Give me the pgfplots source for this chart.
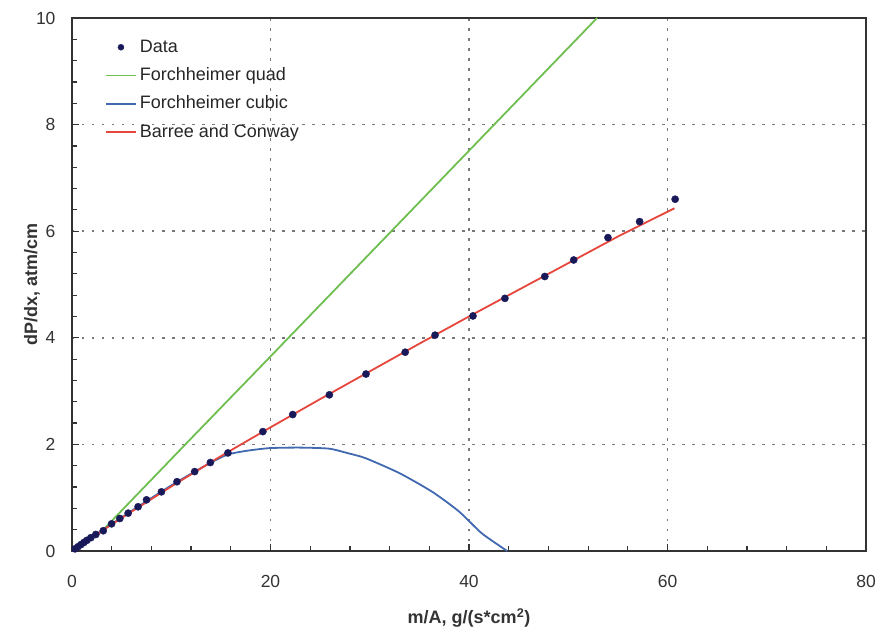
\documentclass[border=0pt]{standalone}
\usepackage{fontspec}
\setmainfont{Liberation Sans}
\usepackage{pgfplots}
\pgfplotsset{compat=1.18}
\definecolor{quadgreen}{RGB}{110,190,80}
\definecolor{cubicblue}{RGB}{65,105,175}
\definecolor{bcred}{RGB}{230,70,60}
\definecolor{datnavy}{RGB}{25,25,90}
\definecolor{gridc}{RGB}{120,120,120}
\begin{document}
\begin{tikzpicture}
\begin{axis}[
  scale only axis, width=794bp, height=533bp,
  xmin=0, xmax=80, ymin=0, ymax=10,
  xtick={0,20,40,60,80}, ytick={0,2,4,6,8,10},
  minor x tick num=4, minor y tick num=4,
  tick pos=left, tick align=inside,
  major tick length=7bp, minor tick length=5bp,
  every tick/.style={black!80, line width=1.2bp},
  axis line style={black!80, line width=1.5bp},
  grid=major,
  major grid style={gridc, line width=1.7bp, dash pattern=on 2.5bp off 7.5bp},
  ticklabel style={font=\fontsize{17.5bp}{20bp}\selectfont, text=black!80},
  /pgf/number format/assume math mode=true,
  xticklabel style={yshift=-21bp},
  yticklabel style={xshift=-13bp},
  xlabel={\textbf{m/A, g/(s*cm\textsuperscript{2})}},
  ylabel={\textbf{dP/dx, atm/cm}},
  label style={font=\fontsize{18bp}{20bp}\selectfont, text=black!80},
  x label style={at={(axis description cs:0.5,-0.1257)}, anchor=center},
  y label style={at={(axis description cs:-0.0504,0.5)}, anchor=center},
  legend cell align=left,
  legend style={draw=none, fill=none, at={(axis cs:3.32,9.62)}, anchor=north west,
    inner sep=0pt, outer sep=0pt, row sep=10.3bp, column sep=3bp,
    font=\fontsize{18bp}{20bp}\selectfont, text=black!85,
    nodes={inner sep=0pt, text height=14bp, text depth=4bp}},
]
\addlegendimage{legend image code/.code={\fill[datnavy] (15bp,0bp) circle[radius=3bp];}}
\addlegendentry{Data}
\addlegendimage{legend image code/.code={\draw[quadgreen, line width=1.8bp] (0bp,0bp) -- (30bp,0bp);}}
\addlegendentry{Forchheimer quad}
\addlegendimage{legend image code/.code={\draw[cubicblue, line width=1.8bp] (0bp,0bp) -- (30bp,0bp);}}
\addlegendentry{Forchheimer cubic}
\addlegendimage{legend image code/.code={\draw[draw=bcred, line width=2bp] (0bp,0bp) -- (30bp,0bp);}}
\addlegendentry{Barree and Conway}
\addplot[forget plot, color=quadgreen, line width=1.8bp] coordinates {
(0,0) (1.5,0.2) (3.15,0.40) (11.63,2.04) (20,3.65) (30,5.58) (40,7.51) (52.9,10.0)
};
\addplot[forget plot, color=cubicblue, line width=1.8bp, smooth, tension=0.4] coordinates {
(0,0) (5,0.63) (10,1.23) (13.9,1.65) (15.7,1.81) (17.6,1.88) (19.9,1.93)
(22.9,1.94) (25.9,1.92) (27.9,1.83) (29.6,1.74) (33.0,1.46) (36.3,1.11)
(39.0,0.74) (41.3,0.33) (43.85,0)
};
\addplot[forget plot, color=bcred, line width=1.8bp] coordinates {
(0,0) (2,0.25) (5,0.62) (10,1.21) (15,1.78) (20,2.32) (25,2.85) (30,3.37)
(35,3.89) (40,4.40) (45,4.90) (50,5.40) (55,5.90) (60.7,6.43)
};
\addplot[forget plot, only marks, mark=*, mark size=3.6bp, color=datnavy] coordinates {
(0.3,0.04) (0.6,0.08) (0.9,0.12) (1.2,0.16) (1.5,0.20) (1.9,0.25) (2.4,0.31)
(3.15,0.38) (3.99,0.51) (4.82,0.61) (5.66,0.71) (6.66,0.83) (7.51,0.96)
(9.01,1.11) (10.58,1.30) (12.36,1.49) (13.94,1.66) (15.71,1.84) (19.23,2.24)
(22.24,2.56) (25.93,2.93) (29.62,3.32) (33.57,3.73) (36.58,4.05) (40.40,4.41)
(43.62,4.74) (47.64,5.15) (50.55,5.46) (54.0,5.88) (57.19,6.18) (60.77,6.60)
};
\end{axis}
\pgfresetboundingbox
\path[use as bounding box] ([xshift=-72bp,yshift=-85bp]current axis.south west) rectangle ([xshift=15bp,yshift=18bp]current axis.north east);
\end{tikzpicture}
\end{document}
